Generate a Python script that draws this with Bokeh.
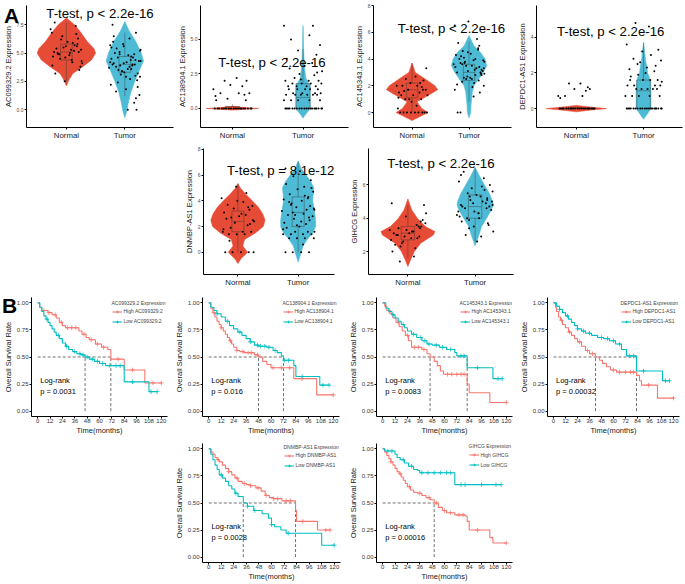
import numpy as np
from bokeh.plotting import figure
from bokeh.layouts import row, column
from bokeh.models import (Range1d, FixedTicker, Legend, LegendItem, Spacer, Div,
                          NumeralTickFormatter)
from bokeh.core.properties import value
from bokeh.embed import file_html
from bokeh.resources import INLINE

# ---------------- data ----------------
GROUPS = ["Normal", "Tumor"]
GENES = ["AC099329.2", "AC138904.1", "AC145343.1", "DEPDC1-AS1", "DNMBP-AS1", "GIHCG"]
TTEST = ["T-test, p < 2.2e-16", "T-test, p < 2.2e-16", "T-test, p < 2.2e-16",
         "T-test, p < 2.2e-16", "T-test, p = 8.1e-12", "T-test, p < 2.2e-16"]
LOGRANK_P = ["0.0031", "0.016", "0.0083", "0.00032", "0.0028", "0.00016"]
PANEL_LETTERS = ["A", "B"]

V_YTICKS = [[0, 2.5, 5, 7.5], [0, 2.5, 5], [0, 2, 4, 6, 8], [0, 2, 4], [0, 2, 4, 6, 8], [2, 4, 6]]
KM_XTICKS = [0, 12, 24, 36, 48, 60, 72, 84, 96, 108, 120]
KM_YTICKS = [0, 0.25, 0.5, 0.75, 1.0]

# violin density profiles (level, half-width in category units)
V1_NORM_Y = [2.1, 2.6, 3.2, 3.8, 4.4, 5.0, 5.4, 6.0, 6.8, 7.5, 8.1]
V1_NORM_W = [0, 0.04, 0.11, 0.28, 0.43, 0.5, 0.47, 0.36, 0.25, 0.14, 0]
V1_TUM_Y = [-0.7, -0.2, 0.5, 1.5, 2.5, 3.5, 4.3, 5.0, 6.0, 7.0, 7.8]
V1_TUM_W = [0, 0.03, 0.055, 0.1, 0.17, 0.25, 0.32, 0.28, 0.19, 0.07, 0]
V2_NORM_Y = [-0.12, -0.05, 0, 0.05, 0.15]
V2_NORM_W = [0, 0.2, 0.37, 0.2, 0]
V2_TUM_Y = [-0.7, -0.4, -0.1, 0, 0.5, 1.0, 1.5, 1.8, 2.2, 3.0, 4.0, 5.0, 6.0]
V2_TUM_W = [0, 0.04, 0.09, 0.1, 0.1, 0.1, 0.1, 0.08, 0.04, 0.02, 0.01, 0.005, 0]
V3_NORM_Y = [-0.6, -0.3, 0, 0.3, 0.8, 1.2, 1.7, 2.0, 2.5, 3.0, 3.7]
V3_NORM_W = [0, 0.14, 0.28, 0.17, 0.085, 0.25, 0.45, 0.4, 0.23, 0.056, 0]
V3_TUM_Y = [-0.4, 0, 0.5, 1.5, 2.0, 2.5, 3.0, 3.5, 4.0, 4.5, 5.0, 5.75]
V3_TUM_W = [0, 0.028, 0.034, 0.056, 0.085, 0.17, 0.25, 0.31, 0.28, 0.2, 0.085, 0]
V4_NORM_Y = [-0.18, -0.08, 0, 0.08, 0.18]
V4_NORM_W = [0, 0.22, 0.45, 0.22, 0]
V4_TUM_Y = [-0.6, -0.3, 0, 0.5, 1.0, 1.6, 2.0, 2.3, 2.7, 3.2, 3.7]
V4_TUM_W = [0, 0.055, 0.11, 0.11, 0.11, 0.1, 0.06, 0.05, 0.03, 0.015, 0]
V5_NORM_Y = [-0.87, -0.5, 0, 0.5, 1.0, 1.5, 2.0, 2.5, 3.0, 3.5, 4.0, 4.5, 5.0, 5.35]
V5_NORM_W = [0, 0.05, 0.16, 0.08, 0.11, 0.29, 0.42, 0.45, 0.41, 0.34, 0.24, 0.13, 0.04, 0]
V5_TUM_Y = [-0.75, 0, 0.5, 1.0, 1.5, 2.0, 2.5, 3.0, 3.5, 4.0, 4.5, 5.0, 5.5, 6.0, 6.5, 7.1]
V5_TUM_W = [0, 0.05, 0.08, 0.15, 0.24, 0.29, 0.29, 0.275, 0.26, 0.24, 0.25, 0.26, 0.21, 0.13, 0.05, 0]
V6_NORM_Y = [1.1, 1.5, 2.0, 2.5, 3.0, 3.2, 3.5, 4.0, 4.5, 5.16]
V6_NORM_W = [0, 0.04, 0.095, 0.19, 0.38, 0.40, 0.26, 0.14, 0.057, 0]
V6_TUM_Y = [2.35, 3.0, 3.5, 4.0, 4.5, 4.8, 5.0, 5.5, 6.0, 6.5, 7.05]
V6_TUM_W = [0, 0.057, 0.095, 0.17, 0.24, 0.27, 0.26, 0.21, 0.14, 0.07, 0]

# box stats: lower whisker, q1, median, q3, upper whisker
V1_NORM_BOX = [2.5, 4.4, 5.1, 5.8, 7.7]
V1_TUM_BOX = [1.2, 3.3, 4.0, 4.7, 6.8]
V2_NORM_BOX = [0, 0, 0, 0.15, 0.3]
V2_TUM_BOX = [0, 0, 0.8, 1.8, 4.3]
V3_NORM_BOX = [0, 1.1, 1.7, 2.2, 3.7]
V3_TUM_BOX = [0.8, 2.4, 3.0, 3.6, 5.3]
V4_NORM_BOX = [0, 0, 0, 0.05, 0.1]
V4_TUM_BOX = [0, 0, 1.0, 1.6, 3.7]
V5_NORM_BOX = [0, 1.6, 2.4, 3.2, 5.3]
V5_TUM_BOX = [0, 2.0, 3.1, 4.3, 7.0]
V6_NORM_BOX = [1.6, 2.7, 3.1, 3.5, 4.8]
V6_TUM_BOX = [2.6, 4.0, 4.7, 5.4, 7.0]

# sample points (expression values)
V1_NORM_PTS = [5.1, 4.8, 5.6, 6.2, 4.3, 5.0, 5.9, 4.6, 3.5, 6.8, 5.3, 4.9, 7.4, 5.5, 4.1, 3.2, 6.0, 5.2, 4.7,
               5.8, 6.5, 3.8, 5.4, 4.4, 7.1, 5.7, 2.5, 6.3, 4.5, 5.0, 3.9, 6.7, 4.9, 5.3, 5.6, 4.2, 7.7, 5.1]
V1_TUM_PTS = [4.0, 3.6, 4.4, 5.1, 2.9, 3.8, 4.7, 5.6, 3.2, 4.2, 6.3, 2.4, 4.9, 3.4, 5.3, 4.1, 1.8, 3.9, 4.5,
              6.8, 3.1, 4.3, 5.0, 2.7, 3.7, 4.6, 5.8, 0.0, 3.5, 4.8, 2.2, 4.0, 5.4, 1.3, 3.3, 4.4, 6.0, 2.6,
              3.9, 4.2, 7.5, 0.0, 3.0, 4.9, 5.2, 1.6, 3.6, 4.1, 2.0, 5.7, 3.8, 4.6, 0.6, 3.4, 4.3, 6.5, 2.9,
              4.0, 5.5, 1.0]
V2_NORM_PTS = [0, 0, 0, 0, 0, 0, 0, 0, 0, 0, 0, 0, 0, 0, 0, 0, 0, 0, 0.6, 0.6, 0.7, 1.1, 1.1, 1.1, 1.4, 1.6,
               1.7, 2.0, 2.0, 2.2, 0.9, 1.0]
V2_TUM_PTS = [0, 0, 0, 0, 0, 0, 0, 0, 0, 0, 0, 0, 0, 0, 0, 0, 0, 0, 0, 0, 0.6, 0.6, 0.6, 0.6, 0.6, 1.0, 1.0,
              1.0, 1.0, 1.0, 1.0, 1.1, 1.1, 1.1, 1.1, 1.4, 1.4, 1.4, 1.4, 1.4, 1.6, 1.6, 1.6, 1.6, 1.8, 1.8,
              1.8, 1.8, 2.0, 2.0, 2.0, 2.2, 2.4, 2.5, 2.7, 2.9, 3.1, 3.3, 3.6, 3.9, 4.2, 4.6, 5.0, 5.3, 6.0,
              6.0, 2.1, 2.6]
V3_NORM_PTS = [0, 0, 0, 0, 0, 0, 0, 0, 0, 0.3, 0.5, 1.0, 1.0, 1.0, 1.3, 1.3, 1.3, 1.5, 1.5, 1.7, 1.7, 1.7,
               2.0, 2.0, 2.0, 2.2, 2.2, 2.4, 2.5, 2.7, 1.1, 1.9, 1.6, 3.3, 0.8]
V3_TUM_PTS = [3.0, 2.5, 3.4, 4.1, 2.0, 3.7, 2.8, 4.5, 3.2, 1.7, 3.9, 2.3, 4.8, 3.5, 2.9, 5.2, 2.6, 3.3, 4.3,
              1.5, 3.8, 3.1, 4.0, 2.2, 3.6, 5.5, 2.7, 3.0, 4.6, 1.9, 3.4, 2.4, 4.2, 3.9, 6.8, 3.2, 0.0, 2.9,
              3.7, 4.4, 2.1, 3.5, 5.0, 2.6, 3.3, 0.0, 4.0, 3.1, 2.8, 6.5, 1.2, 3.6, 4.7, 2.5, 3.8]
V4_NORM_PTS = [0, 0, 0, 0, 0, 0, 0, 0, 0, 0, 0, 0, 0, 0, 0, 0, 0, 0, 0, 0, 0, 0, 0.7, 0.7, 0.7, 1.0, 1.1,
               1.1, 1.4, 1.4, 0.6, 1.2]
V4_TUM_PTS = [0, 0, 0, 0, 0, 0, 0, 0, 0, 0, 0, 0, 0, 0, 0, 0, 0, 0, 0, 0, 0.7, 0.7, 0.7, 0.7, 0.7, 1.1, 1.1,
              1.1, 1.1, 1.1, 1.3, 1.3, 1.3, 1.3, 1.6, 1.6, 1.6, 1.6, 1.9, 2.0, 2.2, 2.3, 2.4, 2.5, 2.7, 2.8,
              3.0, 3.2, 3.3, 3.6, 4.6, 4.8, 2.1, 2.6, 1.5, 1.8]
V5_NORM_PTS = [0, 0, 0, 0, 0, 1.4, 1.4, 1.4, 1.6, 1.6, 1.6, 1.9, 2.1, 2.3, 2.4, 2.6, 2.8, 2.9, 3.1, 3.3, 3.4,
               3.6, 3.7, 3.9, 4.2, 4.6, 5.1, 2.2, 2.7, 3.0, 1.8, 3.5, 0.9, 2.5, 4.0]
V5_TUM_PTS = [0, 0, 0, 0, 1.1, 1.1, 1.1, 1.1, 1.4, 1.4, 1.4, 1.4, 1.6, 1.6, 1.6, 1.9, 2.0, 2.2, 2.3, 2.5, 2.6,
              2.8, 2.9, 3.0, 3.2, 3.3, 3.5, 3.6, 3.8, 4.0, 4.1, 4.3, 4.5, 4.7, 4.9, 5.1, 5.3, 5.6, 5.9, 6.3,
              6.5, 2.4, 2.7, 3.1, 3.4, 3.9, 4.4, 2.1, 5.0, 1.8, 0.6, 3.7, 4.2, 2.9, 3.3]
V6_NORM_PTS = [3.1, 2.8, 3.4, 2.5, 3.7, 3.0, 2.2, 3.3, 3.9, 2.7, 3.2, 1.4, 3.5, 2.9, 4.3, 2.4, 3.1, 3.6, 2.0,
               3.8, 2.6, 4.8, 3.0, 1.7, 3.3, 2.8, 4.1, 3.5, 2.3, 3.2, 4.9, 2.9, 3.4]
V6_TUM_PTS = [4.8, 4.3, 5.2, 3.9, 5.6, 4.6, 5.0, 3.5, 6.0, 4.4, 5.3, 4.0, 4.9, 5.8, 3.2, 4.7, 5.4, 6.4, 4.1,
              3.7, 5.1, 4.5, 6.8, 2.9, 4.2, 5.7, 4.9, 3.6, 5.5, 4.0, 6.2, 4.6, 3.0, 5.0, 4.4, 5.9, 3.8, 4.7,
              5.3, 2.6, 6.6, 4.3, 5.1, 3.4, 4.8]

# horizontal jitter of the points (category units)
JITTER = [-0.21, 0.05, 0.18, -0.09, 0.26, -0.15, 0.11, -0.02, 0.22, -0.25, 0.08, -0.12, 0.16, -0.05, 0.27,
          -0.19, 0.02, 0.13, -0.23, 0.19, -0.07, 0.24, -0.17, 0.09, -0.27, 0.14, -0.03, 0.20, -0.11, 0.06,
          -0.24, 0.17, -0.14, 0.25, -0.01, 0.10, -0.20, 0.21, -0.08, 0.03]

# Kaplan-Meier step data (months, survival)
K1_HIGH_T = [0, 2, 4, 10, 14, 18, 21, 24, 27, 40, 43, 47, 50, 56, 62, 68, 71, 84, 104, 120]
K1_HIGH_S = [1.0, 0.96, 0.93, 0.91, 0.89, 0.86, 0.82, 0.79, 0.77, 0.74, 0.71, 0.68, 0.66, 0.62, 0.59, 0.57,
             0.48, 0.38, 0.26, 0.26]
K1_LOW_T = [0, 2, 4, 6, 8, 10, 12, 14, 16, 18, 21, 24, 27, 30, 34, 38, 42, 46, 50, 55, 60, 66, 84, 108, 116]
K1_LOW_S = [1.0, 0.96, 0.92, 0.88, 0.85, 0.82, 0.79, 0.76, 0.73, 0.70, 0.67, 0.63, 0.60, 0.57, 0.55, 0.53,
            0.52, 0.50, 0.48, 0.46, 0.44, 0.42, 0.27, 0.18, 0.18]
K1_HIGH_CENS = [6, 11, 17, 23, 29, 33, 37, 45, 52, 58, 64, 78, 92, 112, 120]
K1_LOW_CENS = [9, 20, 28, 36, 41, 44, 48, 53, 58, 63, 70, 76, 80, 92, 110, 116]

K2_HIGH_T = [0, 2, 4, 6, 8, 10, 12, 14, 16, 18, 20, 22, 24, 27, 30, 34, 44, 48, 52, 56, 60, 82, 104, 120]
K2_HIGH_S = [1.0, 0.95, 0.91, 0.87, 0.83, 0.80, 0.77, 0.74, 0.71, 0.68, 0.65, 0.62, 0.59, 0.56, 0.55, 0.54,
             0.52, 0.50, 0.46, 0.43, 0.40, 0.30, 0.15, 0.15]
K2_LOW_T = [0, 2, 5, 8, 12, 16, 20, 24, 28, 32, 36, 40, 44, 48, 56, 62, 66, 70, 72, 82, 84, 107, 116]
K2_LOW_S = [1.0, 0.96, 0.93, 0.90, 0.87, 0.83, 0.79, 0.76, 0.73, 0.70, 0.67, 0.64, 0.61, 0.60, 0.59, 0.56,
            0.54, 0.51, 0.47, 0.42, 0.32, 0.24, 0.24]
K2_HIGH_CENS = [5, 12, 21, 27, 33, 38, 41, 47, 62, 70, 78, 90, 120]
K2_LOW_CENS = [8, 18, 30, 40, 47, 50, 54, 58, 64, 73, 77, 90, 110, 116]

K3_HIGH_T = [0, 2, 4, 7, 10, 13, 16, 19, 22, 25, 28, 38, 43, 46, 50, 53, 56, 59, 82, 84, 104, 120]
K3_HIGH_S = [1.0, 0.97, 0.93, 0.90, 0.86, 0.82, 0.78, 0.74, 0.70, 0.65, 0.59, 0.57, 0.53, 0.50, 0.46, 0.42,
             0.37, 0.34, 0.25, 0.17, 0.08, 0.08]
K3_LOW_T = [0, 3, 6, 9, 12, 15, 18, 21, 24, 28, 33, 38, 43, 48, 55, 62, 70, 72, 82, 107, 116]
K3_LOW_S = [1.0, 0.95, 0.92, 0.89, 0.86, 0.83, 0.80, 0.77, 0.74, 0.71, 0.68, 0.65, 0.62, 0.61, 0.59, 0.57,
            0.54, 0.51, 0.40, 0.30, 0.30]
K3_HIGH_CENS = [6, 15, 24, 31, 35, 40, 63, 67, 72, 76, 79, 120]
K3_LOW_CENS = [10, 20, 30, 37, 41, 45, 52, 58, 66, 76, 79, 92, 112, 116]

K4_HIGH_T = [0, 2, 3, 5, 7, 9, 12, 15, 18, 21, 24, 28, 32, 36, 42, 46, 49, 53, 57, 63, 83, 86, 88, 104, 120]
K4_HIGH_S = [1.0, 0.96, 0.92, 0.87, 0.84, 0.80, 0.77, 0.73, 0.70, 0.67, 0.64, 0.60, 0.56, 0.53, 0.50, 0.47,
             0.44, 0.41, 0.38, 0.36, 0.33, 0.28, 0.24, 0.12, 0.12]
K4_LOW_T = [0, 3, 6, 9, 12, 15, 18, 21, 24, 28, 32, 38, 44, 50, 56, 62, 68, 73, 83, 109, 116]
K4_LOW_S = [1.0, 0.97, 0.94, 0.91, 0.88, 0.85, 0.82, 0.79, 0.76, 0.74, 0.72, 0.70, 0.68, 0.67, 0.65, 0.62,
            0.57, 0.51, 0.37, 0.28, 0.28]
K4_HIGH_CENS = [8, 16, 26, 34, 39, 60, 66, 72, 77, 80, 95, 120]
K4_LOW_CENS = [6, 14, 24, 30, 36, 48, 54, 60, 66, 76, 80, 90, 112, 116]

K5_HIGH_T = [0, 2, 4, 6, 8, 10, 13, 16, 19, 22, 25, 28, 32, 36, 40, 45, 50, 54, 58, 62, 70, 83, 84, 104, 116]
K5_HIGH_S = [1.0, 0.97, 0.95, 0.92, 0.90, 0.88, 0.85, 0.82, 0.79, 0.76, 0.73, 0.70, 0.68, 0.67, 0.66, 0.64,
             0.61, 0.57, 0.55, 0.54, 0.52, 0.43, 0.33, 0.25, 0.25]
K5_LOW_T = [0, 2, 4, 6, 8, 10, 13, 16, 19, 22, 25, 28, 33, 37, 43, 51, 57, 60, 63, 69, 74, 108, 120]
K5_LOW_S = [1.0, 0.95, 0.90, 0.85, 0.81, 0.76, 0.73, 0.70, 0.66, 0.63, 0.59, 0.56, 0.50, 0.47, 0.43, 0.40,
            0.36, 0.30, 0.28, 0.25, 0.22, 0.11, 0.11]
K5_HIGH_CENS = [9, 19, 27, 34, 40, 47, 55, 62, 66, 74, 78, 90, 112, 116]
K5_LOW_CENS = [12, 26, 37, 44, 60, 76, 120]

K6_HIGH_T = [0, 2, 4, 6, 8, 10, 12, 14, 16, 18, 20, 22, 24, 27, 30, 34, 38, 42, 46, 50, 54, 58, 62, 70, 80,
             82, 84, 104, 107, 120]
K6_HIGH_S = [1.0, 0.97, 0.94, 0.91, 0.88, 0.85, 0.82, 0.79, 0.77, 0.74, 0.71, 0.68, 0.65, 0.62, 0.60, 0.59,
             0.57, 0.55, 0.53, 0.50, 0.46, 0.43, 0.41, 0.39, 0.38, 0.33, 0.25, 0.18, 0.13, 0.13]
K6_LOW_T = [0, 2, 12, 14, 17, 21, 25, 30, 34, 36, 70, 115]
K6_LOW_S = [1.0, 0.98, 0.95, 0.92, 0.90, 0.87, 0.84, 0.81, 0.80, 0.78, 0.67, 0.67]
K6_HIGH_CENS = [8, 17, 26, 36, 45, 52, 60, 66, 74, 78, 92, 120]
K6_LOW_CENS = [5, 9, 20, 28, 38, 44, 50, 56, 62, 66, 76, 80, 96, 110, 115]

# ---------------- style / layout ----------------
FONT = "Liberation Sans"
VCOL = ["#E64B35", "#4DBBD5"]
KCOL = ["#F8766D", "#00BFC4"]


def make_fig(x0, x1, y0, y1, fl, fr, ft, fb, xr, yr):
    p = figure(width=int(round(x1 - x0)), height=int(round(y1 - y0)),
               x_range=Range1d(*xr), y_range=Range1d(*yr),
               output_backend="svg", toolbar_location=None,
               min_border_left=int(round(fl - x0)), min_border_right=int(round(x1 - fr)),
               min_border_top=int(round(ft - y0)), min_border_bottom=int(round(y1 - fb)))
    p.outline_line_color = None
    p.grid.visible = False
    for ax in (p.xaxis[0], p.yaxis[0]):
        ax.axis_line_color = "black"
        ax.axis_line_width = 1
        ax.major_tick_line_color = "black"
        ax.major_tick_in = 0
        ax.major_tick_out = 2
        ax.minor_tick_line_color = None
        ax.major_label_standoff = 1
        ax.axis_label_standoff = 1
        ax.major_label_text_font = FONT
        ax.axis_label_text_font = FONT
        ax.axis_label_text_font_style = "normal"
        ax.axis_label_text_color = "#1a1a1a"
    return p


VIOLIN_DATA = [
    (V1_NORM_Y, V1_NORM_W, V1_TUM_Y, V1_TUM_W, V1_NORM_BOX, V1_TUM_BOX, V1_NORM_PTS, V1_TUM_PTS),
    (V2_NORM_Y, V2_NORM_W, V2_TUM_Y, V2_TUM_W, V2_NORM_BOX, V2_TUM_BOX, V2_NORM_PTS, V2_TUM_PTS),
    (V3_NORM_Y, V3_NORM_W, V3_TUM_Y, V3_TUM_W, V3_NORM_BOX, V3_TUM_BOX, V3_NORM_PTS, V3_TUM_PTS),
    (V4_NORM_Y, V4_NORM_W, V4_TUM_Y, V4_TUM_W, V4_NORM_BOX, V4_TUM_BOX, V4_NORM_PTS, V4_TUM_PTS),
    (V5_NORM_Y, V5_NORM_W, V5_TUM_Y, V5_TUM_W, V5_NORM_BOX, V5_TUM_BOX, V5_NORM_PTS, V5_TUM_PTS),
    (V6_NORM_Y, V6_NORM_W, V6_TUM_Y, V6_TUM_W, V6_NORM_BOX, V6_TUM_BOX, V6_NORM_PTS, V6_TUM_PTS),
]

# page boxes (x0, x1, y0, y1, frame_left, frame_right, frame_top, frame_bottom)
V_BOX = [
    (0, 174, 0, 142, 22, 173, 5, 128),
    (174, 351, 0, 142, 195, 348, 5, 127),
    (351, 514, 0, 142, 368, 511, 2, 132),
    (514, 684, 0, 142, 532, 682, 5, 128),
    (181, 346, 142, 289, 197, 334, 145, 276),
    (346, 520, 142, 289, 362, 513, 148, 274),
]
V_XR = [(0.317, 2.833), (0.548, 2.644), (0.322, 2.746), (0.406, 2.58), (0.429, 2.603), (0.414, 2.571)]
V_YR = [(-1.58, 9.21), (-1.38, 7.46), (-1.12, 8.0), (-1.06, 5.78), (-1.72, 8.06), (0.62, 8.19)]
V_TXT = [(1.575, 8.5), (1.56, 3.33), (1.69, 6.3), (1.51, 4.33), (1.71, 6.34), (1.49, 7.28)]
V_FMT = ["0.0", "0.0", "0", "0", "0", "0"]

K_BOX = [
    (0, 171, 289, 437, 27.6, 167.3, 296.5, 418.5),
    (171, 345, 289, 437, 199.6, 339.4, 296.5, 418.5),
    (345, 516, 289, 437, 369.5, 512.5, 296.5, 418.5),
    (516, 684, 289, 437, 540.7, 679.3, 296.5, 418.5),
    (171, 345, 437, 583, 199.6, 340.4, 442.5, 564.5),
    (345, 520, 437, 583, 369.5, 512.5, 441.4, 564.6),
]
# legend bottom-left offset inside the frame (px)
K_LEG = [(79.5, 90.5), (79.5, 90.5), (82.5, 90.5), (72.5, 90.5), (80.5, 92.5), (91.5, 92.6)]

KM_DATA = [
    (K1_HIGH_T, K1_HIGH_S, K1_LOW_T, K1_LOW_S, K1_HIGH_CENS, K1_LOW_CENS),
    (K2_HIGH_T, K2_HIGH_S, K2_LOW_T, K2_LOW_S, K2_HIGH_CENS, K2_LOW_CENS),
    (K3_HIGH_T, K3_HIGH_S, K3_LOW_T, K3_LOW_S, K3_HIGH_CENS, K3_LOW_CENS),
    (K4_HIGH_T, K4_HIGH_S, K4_LOW_T, K4_LOW_S, K4_HIGH_CENS, K4_LOW_CENS),
    (K5_HIGH_T, K5_HIGH_S, K5_LOW_T, K5_LOW_S, K5_HIGH_CENS, K5_LOW_CENS),
    (K6_HIGH_T, K6_HIGH_S, K6_LOW_T, K6_LOW_S, K6_HIGH_CENS, K6_LOW_CENS),
]


def violin_fig(i):
    x0, x1, y0, y1, fl, fr, ft, fb = V_BOX[i]
    p = make_fig(x0, x1, y0, y1, fl, fr, ft, fb, V_XR[i], V_YR[i])
    ny, nw, ty, tw, nbox, tbox, npts, tpts = VIOLIN_DATA[i]
    for g, (yy, ww, box, pts) in enumerate([(ny, nw, nbox, npts), (ty, tw, tbox, tpts)]):
        c = g + 1
        col = VCOL[g]
        yy = np.array(yy, float)
        ww = np.array(ww, float)
        xs = np.concatenate([c - ww, (c + ww)[::-1]])
        ys = np.concatenate([yy, yy[::-1]])
        p.patch(xs, ys, fill_color=col, line_color=col, line_width=0.6)
        lw, q1, med, q3, uw = box
        p.segment(x0=[c], y0=[lw], x1=[c], y1=[uw], line_color="#333333", line_width=0.5, line_alpha=0.8)
        p.quad(left=[c - 0.1], right=[c + 0.1], bottom=[q1], top=[q3], fill_color=col,
               line_color="#333333", line_width=0.5, line_alpha=0.8)
        p.segment(x0=[c - 0.1], y0=[med], x1=[c + 0.1], y1=[med], line_color="#333333",
                  line_width=0.5, line_alpha=0.8)
        jit = np.array([JITTER[k % len(JITTER)] for k in range(len(pts))])
        p.scatter(x=c + jit, y=pts, size=2.0, fill_color="black", line_color=None, marker="circle")
    tx, ty_ = V_TXT[i]
    p.text(x=[tx], y=[ty_], text=[TTEST[i]], text_font=value(FONT), text_font_size="13.2px",
           text_align="center", text_baseline="middle", text_color="black")
    p.xaxis.ticker = FixedTicker(ticks=[1, 2])
    p.xaxis.major_label_overrides = {1: GROUPS[0], 2: GROUPS[1]}
    p.xaxis.major_label_text_font_size = "7.8px"
    p.xaxis.major_label_text_color = "#1a1a1a"
    p.yaxis.ticker = FixedTicker(ticks=V_YTICKS[i])
    p.yaxis.formatter = NumeralTickFormatter(format=V_FMT[i])
    p.yaxis.major_label_text_font_size = "5px"
    p.yaxis.major_label_text_color = "#4d4d4d"
    p.yaxis.axis_label = GENES[i] + " Expression"
    p.yaxis.axis_label_text_font_size = "7.5px"
    return p


def surv_at(t, s, q):
    t = np.array(t, float)
    s = np.array(s, float)
    idx = np.searchsorted(t, np.array(q, float), side="right") - 1
    return s[idx]


def median_time(t, s):
    for tt, ss in zip(t, s):
        if ss <= 0.5:
            return tt
    return None


def km_fig(i):
    x0, x1, y0, y1, fl, fr, ft, fb = K_BOX[i]
    p = make_fig(x0, x1, y0, y1, fl, fr, ft, fb, (-6, 126), (-0.05, 1.05))
    ht, hs, lt, ls, hc, lc = KM_DATA[i]
    meds = [m for m in (median_time(ht, hs), median_time(lt, ls)) if m is not None]
    if meds:
        p.line([0, max(meds)], [0.5, 0.5], line_color="#333333", line_dash="3 2", line_width=0.7)
        for m in meds:
            p.line([m, m], [0, 0.5], line_color="#333333", line_dash="3 2", line_width=0.7)
    items = []
    for lab, tt, ss, cc, col in (("High", ht, hs, hc, KCOL[0]), ("Low", lt, ls, lc, KCOL[1])):
        r1 = p.step(x=tt, y=ss, mode="after", line_color=col, line_width=1.1)
        r2 = p.scatter(x=cc, y=surv_at(tt, ss, cc), marker="cross", size=4.5, line_color=col,
                       line_width=0.8)
        items.append(LegendItem(label=lab + " " + GENES[i], renderers=[r1, r2]))
    p.text(x=[2.5, 2.5], y=[0.285, 0.185], text=["Log-rank", "p = " + LOGRANK_P[i]],
           text_font=value(FONT), text_font_size="7.5px", text_baseline="middle", text_color="black")
    leg = Legend(items=items, title=GENES[i] + " Expression", location=K_LEG[i])
    leg.title_text_font = FONT
    leg.title_text_font_size = "5px"
    leg.title_text_font_style = "normal"
    leg.title_standoff = 2
    leg.label_text_font = FONT
    leg.label_text_font_size = "5px"
    leg.label_height = 7
    leg.label_standoff = 2
    leg.glyph_width = 10
    leg.glyph_height = 7
    leg.spacing = 3
    leg.padding = 1
    leg.margin = 0
    leg.background_fill_alpha = 0
    leg.border_line_alpha = 0
    p.add_layout(leg)
    p.xaxis.ticker = FixedTicker(ticks=KM_XTICKS)
    p.yaxis.ticker = FixedTicker(ticks=KM_YTICKS)
    p.yaxis.formatter = NumeralTickFormatter(format="0.00")
    for ax in (p.xaxis[0], p.yaxis[0]):
        ax.major_label_text_font_size = "6px"
        ax.major_label_text_color = "#333333"
        ax.axis_label_text_font_size = "7.5px"
    p.xaxis.major_label_standoff = 0
    p.xaxis.axis_label_standoff = 0
    p.xaxis.axis_label = "Time(months)"
    p.yaxis.axis_label = "Overall Survival Rate"
    return p


vf = [violin_fig(i) for i in range(6)]
kf = [km_fig(i) for i in range(6)]


def letter(txt, left, top):
    return Div(text=txt, width=24, height=26, margin=0,
               styles={"position": "absolute", "left": f"{left}px", "top": f"{top}px",
                       "z-index": "10", "font-family": FONT, "font-size": "21px",
                       "font-weight": "bold", "line-height": "21px", "color": "black"})


rowA1 = row(vf[0], vf[1], vf[2], vf[3])
rowA2 = row(Spacer(width=181, height=147), vf[4], vf[5])
rowB1 = row(kf[0], kf[1], kf[2], kf[3])
rowB2 = row(Spacer(width=171, height=146), kf[4], kf[5])
page = column(letter(PANEL_LETTERS[0], 4, 5), letter(PANEL_LETTERS[1], 2, 295),
              rowA1, rowA2, rowB1, rowB2)

open("out.html", "w").write(file_html(page, INLINE))
